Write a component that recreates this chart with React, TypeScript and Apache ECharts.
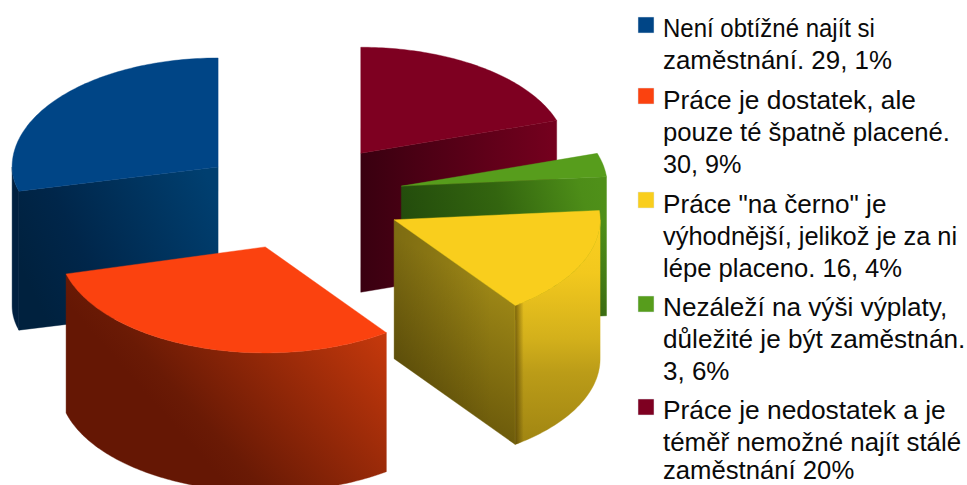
import React, { useEffect, useRef } from "react";
import * as echarts from "echarts";

// ---- data ----
const categories = [
  "Není obtížné najít si\nzaměstnání. 29, 1%",
  "Práce je dostatek, ale\npouze té špatně placené.\n30, 9%",
  "Práce \"na černo\" je\nvýhodnější, jelikož je za ni\nlépe placeno. 16, 4%",
  "Nezáleží na výši výplaty,\ndůležité je být zaměstnán.\n3, 6%",
  "Práce je nedostatek a je\ntéměř nemožné najít stálé\nzaměstnání 20%",
];
const shares = [29.1, 30.9, 16.4, 3.6, 20];

// ---- styles and layout ----
const colors = ["#004586", "#fb420f", "#f9ce1d", "#579d1c", "#7e0021"];
const legendIconTops = [17, 88, 192, 296, 399];
const legendBaselines = [
  [37, 69],
  [109, 141, 173],
  [213, 245, 277],
  [316, 348, 380],
  [419, 451, 479],
];
const legendStretch = [
  [0.923, 0.997],
  [1.012, 0.988, 0.97],
  [1.006, 0.979, 0.985],
  [1.006, 1.006, 1],
  [1.014, 0.997, 0.988],
];
const TEXT_ASCENT = 22;
const drawOrder = [0, 4, 3, 1, 2];
const PIE_X = 300;
const PIE_Y = 198.4;
const EXPLODE = 103.4;
const TILT = 0.498;
const RX = 206;
const WALL = 139;
const START_DEG = 90;
const nudgeY = [0, 0, 0, -2, -3.5];
const ryUp = [109, 106, 106, 106, 106];
const ryDown = [95, 106, 106, 106, 106];

type Grad = [number, number, number, number, [number, string][]];
const grad = (g: Grad) =>
  new echarts.graphic.LinearGradient(g[0], g[1], g[2], g[3], g[4].map(([offset, color]) => ({ offset, color })));

const wallFill: Grad[] = [
  [0, 0.5, 1, 0.5, [[0, "#002040"], [1, "#002040"]]],
  [0.25, 0.55, 1, 0.1, [[0, "#651704"], [0.1, "#6a1a05"], [1, "#d23d0d"]]],
  [0.5, 0, 0.5, 1, [[0, "#fbd01f"], [0.24, "#f2c81e"], [0.53, "#d3b01b"], [0.68, "#bb9c18"], [1, "#a08512"]]],
  [0, 0, 1, 0, [[0, "#4d8d18"], [1, "#4d8d18"]]],
  [0, 0, 1, 0, [[0, "#75001e"], [1, "#75001e"]]],
];
const wallOverlay: (Grad | null)[] = [
  null,
  null,
  [0, 0.5, 1, 0.5, [[0, "rgba(60,45,0,0.6)"], [0.1, "rgba(60,45,0,0)"], [1, "rgba(60,45,0,0)"]]],
  null,
  null,
];
const cutFill: Grad[] = [
  [0, 0.6, 1, 0.2, [[0, "#00213e"], [0.3, "#00264a"], [1, "#003f70"]]],
  [0, 0, 1, 0, [[0, "#6a1a05"], [1, "#6a1a05"]]],
  [0.6, 1, 0.8, 0.3, [[0, "#655409"], [1, "#9c8616"]]],
  [0, 0.4, 1, 0.2, [[0, "#224a0c"], [0.5, "#33650f"], [0.9, "#4d8d18"], [1, "#4f9019"]]],
  [0, 0.5, 1, 0.5, [[0, "#390010"], [1, "#75001e"]]],
];
const cutOverlay: (Grad | null)[] = [
  null,
  null,
  [0, 0.5, 0.8, 0.5, [[0, "rgba(0,0,0,0.2)"], [1, "rgba(0,0,0,0)"]]],
  [0.5, 0.3, 0.5, 1, [[0, "rgba(0,0,0,0)"], [1, "rgba(0,0,0,0.22)"]]],
  null,
];

const total = shares.reduce((a, b) => a + b, 0);
const startAngles = shares.map((_, i) => START_DEG + (shares.slice(0, i).reduce((a, b) => a + b, 0) / total) * 360);
const rad = (d: number) => (d * Math.PI) / 180;

function renderSlice(_params: any, api: any) {
  const i = api.value(1) as number;
  const sweep = ((api.value(0) as number) / total) * 360;
  const a0 = startAngles[i];
  const a1 = a0 + sweep;
  const mid = rad(a0 + sweep / 2);
  const cx = PIE_X + EXPLODE * Math.cos(mid);
  const cy = PIE_Y - EXPLODE * TILT * Math.sin(mid) + nudgeY[i];
  const pt = (deg: number): number[] => {
    const s = Math.sin(rad(deg));
    return [cx + RX * Math.cos(rad(deg)), cy - (s > 0 ? ryUp[i] : ryDown[i]) * s];
  };
  const arc = (from: number, to: number) => {
    const out: number[][] = [];
    const n = Math.max(1, Math.ceil(to - from));
    for (let k = 0; k <= n; k++) out.push(pt(from + ((to - from) * k) / n));
    return out;
  };
  const drop = (p: number[]) => [p[0], p[1] + WALL];
  const children: any[] = [];
  let z = drawOrder.indexOf(i) * 10;
  const face = (points: number[][], fill: any) =>
    children.push({ type: "polygon", z2: z++, shape: { points }, style: { fill, stroke: fill, lineWidth: 0.4 } });
  const faceFlat = (points: number[][], g: Grad | null) => {
    if (g) children.push({ type: "polygon", z2: z++, shape: { points }, style: { fill: grad(g) } });
  };

  // radial cut faces that turn towards the viewer
  const cuts: number[] = [];
  if (Math.sin(rad(a0 - 90)) < -1e-6) cuts.push(a0);
  if (Math.sin(rad(a1 + 90)) < -1e-6) cuts.push(a1);
  cuts.forEach((a) => {
    const p = pt(a);
    const c = [cx, cy];
    const poly = [c, p, drop(p), drop(c)];
    face(poly, grad(cutFill[i]));
    faceFlat(poly, cutOverlay[i]);
  });

  // outer wall: the part of the rim on the near half of the ellipse
  const from = Math.max(a0, 180);
  const to = Math.min(a1, 360);
  if (to > from) {
    const rim = arc(from, to);
    const poly = rim.concat(rim.slice().reverse().map(drop));
    face(poly, grad(wallFill[i]));
    faceFlat(poly, wallOverlay[i]);
  }

  // top face
  face([[cx, cy], ...arc(a0, a1)], colors[i]);

  return { type: "group", children };
}

export default function App() {
  const ref = useRef<HTMLDivElement>(null);
  useEffect(() => {
    const chart = echarts.init(ref.current as HTMLDivElement, undefined, { renderer: "svg" });
    chart.setOption({
      animation: false,
      backgroundColor: "#ffffff",
      series: [
        {
          type: "custom",
          coordinateSystem: "none",
          silent: true,
          renderItem: renderSlice,
          data: drawOrder.map((i) => ({ name: categories[i], value: [shares[i], i] })),
        },
      ],
      graphic: categories.flatMap((block, i) => [
        {
          type: "rect",
          x: 638,
          y: legendIconTops[i],
          shape: { width: 16, height: 16 },
          style: { fill: colors[i], stroke: "#dfe6ee", lineWidth: 0.5 },
        },
        ...block.split("\n").map((line, k) => ({
          type: "text",
          x: 663,
          y: legendBaselines[i][k] - TEXT_ASCENT,
          scaleX: legendStretch[i][k],
          style: {
            text: line,
            fill: "#0a0a0a",
            font: '26px "Liberation Sans", Arial, sans-serif',
            textVerticalAlign: "top",
          },
        })),
      ]),
    });
    return () => chart.dispose();
  }, []);
  return <div ref={ref} style={{ position: "absolute", left: 0, top: 0, width: 967, height: 485 }} />;
}
